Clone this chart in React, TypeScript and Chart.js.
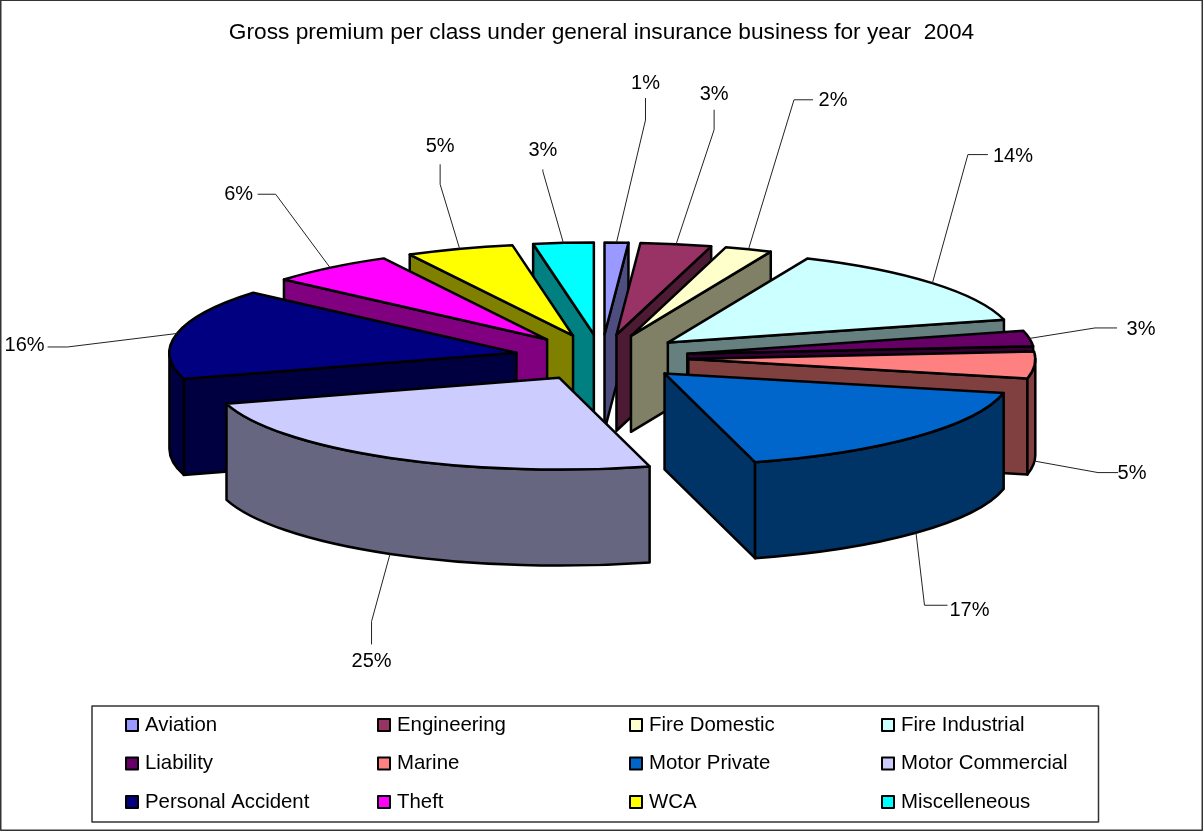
import React, { useEffect, useRef } from "react";
import { Chart, registerables } from "chart.js";

Chart.register(...registerables);

const TITLE = "Gross premium per class under general insurance business for year  2004";
const categories = ["Aviation", "Engineering", "Fire Domestic", "Fire Industrial", "Liability", "Marine", "Motor Private", "Motor Commercial", "Personal Accident", "Theft", "WCA", "Miscelleneous"];
const shares = [1.1, 3.3, 2.2, 14.4, 2.7, 4.7, 17.4, 24.6, 15.9, 5.9, 5.0, 2.8];
const colours = ["#9999ff", "#993366", "#ffffcc", "#ccffff", "#660066", "#ff8080", "#0066cc", "#ccccff", "#000080", "#ff00ff", "#ffff00", "#00ffff"];

const FONT = "'Liberation Sans', Arial, sans-serif";
const VIEW = { cx: 601.5, cy: 357.5, squash: 0.265, depth: 96, radius: 347, explode: 87 };
// Leader routing per label: elbow (from rim anchor), tail (from elbow), text centre (from tail)
const LEADERS: number[][][] = [
  [[29, -122.5], [0, -22], [0, -15]],
  [[38, -114.5], [0, -20], [0, -15]],
  [[45.5, -149.5], [19, 0], [20, 1]],
  [[35.5, -128.5], [20, 0], [25, 2]],
  [[65.5, -10.5], [22, 0], [24, 2]],
  [[63.5, 11.5], [20, 0], [14, 1]],
  [[8.5, 72.5], [23, 0], [22, 5]],
  [[-18.5, 67.5], [0, 23], [0, 17]],
  [[-109.5, 13.5], [-20, 0], [-23, -1]],
  [[-54.5, -73.5], [-18, 0], [-19, 0]],
  [[-19.5, -64.5], [0, -20], [0, -18]],
  [[-20.5, -71.5], [0, -2], [0, -19]],
];
const LEGEND = { left: 92, top: 706, right: 1098.5, bottom: 822, swatch: 125, column: 252, textGap: 20, firstRow: 725, rowGap: 38.5, perRow: 4 };

const halve = (hex: string) => {
  const n = parseInt(hex.slice(1), 16);
  const part = (v: number) => Math.round(v / 2);
  return `rgb(${part((n >> 16) & 255)},${part((n >> 8) & 255)},${part(n & 255)})`;
};

const pie3d = {
  id: "pie3d",
  beforeDatasetsDraw(chart: any) {
    const ctx = chart.ctx;
    const arcs: any[] = chart.getDatasetMeta(0).data;
    const { cx, cy, squash, depth, explode } = VIEW;
    const geo = arcs.map((arc, i) => {
      const mid = (arc.startAngle + arc.endAngle) / 2;
      return { arc, i, mid, ax: cx + Math.cos(mid) * explode, ay: cy + Math.sin(mid) * explode * squash, r: arc.outerRadius };
    });
    const point = (g: any, a: number, z: number) => [g.ax + g.r * Math.cos(a), g.ay + g.r * Math.sin(a) * squash + z];
    const order = [...geo].sort((p, q) => Math.sin(p.mid) - Math.sin(q.mid));

    ctx.lineJoin = "round";
    ctx.lineWidth = 2.5;
    ctx.strokeStyle = "#000";
    for (const g of order) {
      const { arc } = g;
      const s = arc.startAngle, e = arc.endAngle;
      ctx.fillStyle = halve(colours[g.i]);
      const radial = (a: number) => {
        const [x, y] = point(g, a, 0);
        ctx.beginPath();
        ctx.moveTo(g.ax, g.ay);
        ctx.lineTo(x, y);
        ctx.lineTo(x, y + depth);
        ctx.lineTo(g.ax, g.ay + depth);
        ctx.closePath();
        ctx.fill();
        ctx.stroke();
      };
      if (Math.cos(s) < 0) radial(s);
      if (Math.cos(e) > 0) radial(e);
      const a0 = Math.max(s, 0), a1 = Math.min(e, Math.PI);
      if (a1 > a0) {
        ctx.beginPath();
        ctx.ellipse(g.ax, g.ay, g.r, g.r * squash, 0, a0, a1);
        ctx.ellipse(g.ax, g.ay + depth, g.r, g.r * squash, 0, a1, a0, true);
        ctx.closePath();
        ctx.fill();
        ctx.stroke();
      }
      // top face: the library's own arc, exploded and seen through the tilt
      ctx.save();
      ctx.translate(g.ax, g.ay);
      ctx.scale(1, squash);
      ctx.translate(-arc.x, -arc.y);
      arc.draw(ctx);
      ctx.restore();
      ctx.beginPath();
      ctx.moveTo(g.ax, g.ay);
      ctx.ellipse(g.ax, g.ay, g.r, g.r * squash, 0, s, e);
      ctx.closePath();
      ctx.stroke();
    }

    // leaders and percentage labels
    ctx.lineWidth = 1;
    ctx.strokeStyle = "#222";
    ctx.fillStyle = "#000";
    ctx.font = `20px ${FONT}`;
    ctx.textAlign = "center";
    ctx.textBaseline = "middle";
    for (const g of geo) {
      const front = Math.sin(g.mid) > 0;
      const [x, y] = point(g, g.mid, front ? depth : 0);
      const [el, tail, txt] = LEADERS[g.i];
      const ex = x + el[0], ey = y + el[1];
      const tx = ex + tail[0], ty = ey + tail[1];
      ctx.beginPath();
      ctx.moveTo(x, y);
      ctx.lineTo(ex, ey);
      ctx.lineTo(tx, ty);
      ctx.stroke();
      ctx.fillText(`${Math.round(shares[g.i])}%`, tx + txt[0], ty + txt[1]);
    }
    return false;
  },
  afterDraw(chart: any) {
    const ctx = chart.ctx;
    const { left, top, right, bottom, swatch, column, textGap, firstRow, rowGap, perRow } = LEGEND;
    ctx.save();
    ctx.strokeStyle = "#333";
    ctx.lineWidth = 1.5;
    ctx.strokeRect(left, top, right - left, bottom - top);
    ctx.strokeRect(0.75, 0.25, chart.width - 1.5, chart.height - 2);
    ctx.font = `20.4px ${FONT}`;
    ctx.textAlign = "left";
    ctx.textBaseline = "middle";
    chart.data.labels.forEach((label: string, i: number) => {
      const x = swatch + (i % perRow) * column;
      const y = firstRow + Math.floor(i / perRow) * rowGap;
      ctx.fillStyle = colours[i];
      ctx.fillRect(x + 1, y - 6, 12, 12);
      ctx.strokeStyle = "#000";
      ctx.lineWidth = 2;
      ctx.strokeRect(x + 1, y - 6, 12, 12);
      ctx.fillStyle = "#000";
      ctx.fillText(label, x + textGap, y);
    });
    ctx.restore();
  },
};

export default function App() {
  const ref = useRef<HTMLCanvasElement>(null);
  useEffect(() => {
    const chart = new Chart(ref.current!, {
      type: "pie",
      data: {
        labels: categories,
        datasets: [{ data: shares, backgroundColor: colours, borderWidth: 0, clip: false } as any],
      },
      options: {
        responsive: false,
        animation: false,
        radius: VIEW.radius,
        layout: { padding: 0 },
        plugins: {
          legend: { display: false },
          tooltip: { enabled: false },
          title: {
            display: true,
            text: TITLE,
            color: "#000",
            font: { size: 22.7, family: FONT, weight: "normal" },
            padding: { top: 19, bottom: 10 },
          },
        },
      } as any,
      plugins: [pie3d],
    });
    return () => chart.destroy();
  }, []);
  return (
    <div style={{ position: "absolute", left: 0, top: 0, width: 1203, height: 832 }}>
      <canvas ref={ref} width={1203} height={832} style={{ display: "block" }} />
    </div>
  );
}
